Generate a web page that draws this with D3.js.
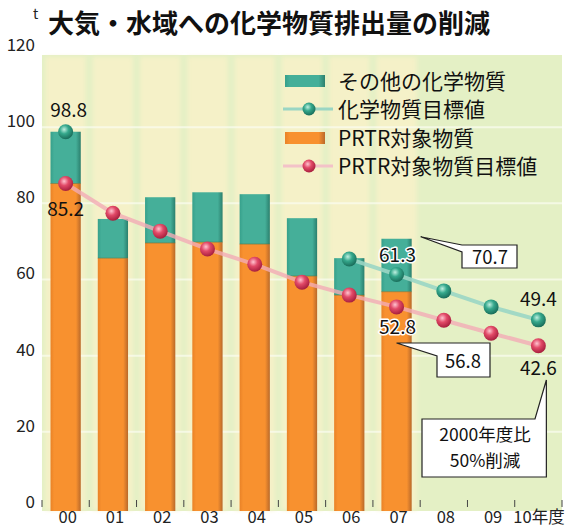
<!DOCTYPE html>
<html>
<head>
<meta charset="utf-8">
<script src="https://cdn.jsdelivr.net/npm/d3@7"></script>
<style>
  body { margin: 0; background: #fff; }
  svg { display: block; font-family: "Noto Sans CJK JP", "Noto Sans", sans-serif; }
</style>
</head>
<body>
<div id="chart"></div>
<script>
// chart data
const years = ["00", "01", "02", "03", "04", "05", "06", "07", "08", "09", "10"];
const barYears = ["00", "01", "02", "03", "04", "05", "06", "07"];
const prtr = [85.2, 65.6, 69.6, 69.8, 69.3, 60.9, 55.9, 56.8];       // PRTR対象物質
const totals = [98.8, 75.9, 81.6, 82.9, 82.4, 76.1, 65.6, 70.7];     // 合計 (上端)
const prtrTarget = [85.2, 77.4, 72.7, 68.0, 64.0, 59.3, 55.9, 52.8, 49.3, 45.9, 42.6];
const chemTarget = [98.8, null, null, null, null, null, 65.4, 61.3, 57.0, 52.8, 49.4];
const yTicks = [0, 20, 40, 60, 80, 100, 120];
const legendLabels = ["その他の化学物質", "化学物質目標値", "PRTR対象物質", "PRTR対象物質目標値"];

const WIDTH = 567, HEIGHT = 530;
const MARGINS = {left: 42, right: 5, top: 55, bottom: 22};
const BASE = 508;

const svg = d3.select("#chart").append("svg")
    .attr("width", WIDTH).attr("height", HEIGHT);

const defs = svg.append("defs");

// bar shading gradients
function barGrad(id, edge, mid, dark) {
  const g = defs.append("linearGradient").attr("id", id)
      .attr("x1", "0%").attr("x2", "100%");
  g.append("stop").attr("offset", "0%").attr("stop-color", edge);
  g.append("stop").attr("offset", "12%").attr("stop-color", mid);
  g.append("stop").attr("offset", "84%").attr("stop-color", mid);
  g.append("stop").attr("offset", "100%").attr("stop-color", dark);
}
barGrad("gOrange", "#e98227", "#f8912f", "#b9692a");
barGrad("gTeal", "#36a08b", "#45af99", "#2b7f6d");

function ballGrad(id, hi, mid, dark) {
  const g = defs.append("radialGradient").attr("id", id)
      .attr("cx", "40%").attr("cy", "35%").attr("r", "65%");
  g.append("stop").attr("offset", "0%").attr("stop-color", hi);
  g.append("stop").attr("offset", "45%").attr("stop-color", mid);
  g.append("stop").attr("offset", "100%").attr("stop-color", dark);
}
ballGrad("bRed", "#ffc4d0", "#e24a68", "#a81f3e");
ballGrad("bTeal", "#bff0e0", "#35a88c", "#1a6e5b");

defs.append("filter").attr("id", "blur")
  .append("feGaussianBlur").attr("stdDeviation", 2);

const x = d3.scaleBand()
    .domain(years)
    .range([MARGINS.left, WIDTH - MARGINS.right]);

const y = d3.scaleLinear()
    .domain([0, 120])
    .range([BASE, 51]);

const bw = x.bandwidth() * 0.64;
const cx = (d) => x(d) + x.bandwidth() / 2;

// background
svg.append("rect")
    .attr("x", MARGINS.left).attr("y", MARGINS.top)
    .attr("width", x.range()[1] - MARGINS.left)
    .attr("height", BASE + 3 - MARGINS.top)
    .attr("fill", "#e4f0c5");

// pale glow behind bars
svg.selectAll(".glow")
  .data(barYears)
  .enter().append("rect")
    .attr("x", (d) => cx(d) - bw / 2 - 5)
    .attr("y", MARGINS.top + 2)
    .attr("width", bw + 10)
    .attr("height", BASE - MARGINS.top)
    .attr("fill", "#f5f1c8")
    .attr("filter", "url(#blur)");

// white grid lines
svg.selectAll(".grid")
  .data(yTicks.slice(1, 6))
  .enter().append("line")
    .attr("x1", MARGINS.left).attr("x2", x.range()[1])
    .attr("y1", (d) => y(d)).attr("y2", (d) => y(d))
    .attr("stroke", "#fbfdf2").attr("stroke-width", 2).attr("opacity", 0.7);

// stacked bars
svg.selectAll(".bar-teal")
  .data(barYears)
  .enter().append("rect")
    .attr("x", (d) => cx(d) - bw / 2)
    .attr("y", (d, i) => y(totals[i]))
    .attr("width", bw)
    .attr("height", (d, i) => y(prtr[i]) - y(totals[i]))
    .attr("fill", "url(#gTeal)");

svg.selectAll(".bar-orange")
  .data(barYears)
  .enter().append("rect")
    .attr("x", (d) => cx(d) - bw / 2)
    .attr("y", (d, i) => y(prtr[i]))
    .attr("width", bw)
    .attr("height", (d, i) => y(0) + 3 - y(prtr[i]))
    .attr("fill", "url(#gOrange)");

svg.selectAll(".bar-sep")
  .data(barYears)
  .enter().append("line")
    .attr("x1", (d) => cx(d) - bw / 2).attr("x2", (d) => cx(d) + bw / 2)
    .attr("y1", (d, i) => y(prtr[i])).attr("y2", (d, i) => y(prtr[i]))
    .attr("stroke", "#5e6e3a").attr("stroke-width", 1).attr("opacity", 0.6);

// target lines
const line = d3.line()
    .defined((d) => d[1] !== null)
    .x((d) => cx(d[0]))
    .y((d) => y(d[1]));

const redPts = years.map((d, i) => [d, prtrTarget[i]]);
const tealPts = years.map((d, i) => [d, chemTarget[i]]);

svg.append("path")
    .datum(redPts)
    .attr("d", line)
    .attr("fill", "none")
    .attr("stroke", "#f3abb5").attr("stroke-width", 4).attr("opacity", 0.8);

svg.append("path")
    .datum(tealPts)
    .attr("d", line)
    .attr("fill", "none")
    .attr("stroke", "#9ad6c4").attr("stroke-width", 4).attr("opacity", 0.9);

svg.selectAll(".dot-red")
  .data(redPts)
  .enter().append("circle")
    .attr("cx", (d) => cx(d[0])).attr("cy", (d) => y(d[1]))
    .attr("r", 7.5)
    .attr("fill", "url(#bRed)");

svg.selectAll(".dot-teal")
  .data(tealPts.filter((d) => d[1] !== null))
  .enter().append("circle")
    .attr("cx", (d) => cx(d[0])).attr("cy", (d) => y(d[1]))
    .attr("r", 7.5)
    .attr("fill", "url(#bTeal)");

// y axis labels
svg.selectAll(".ylab")
  .data(yTicks)
  .enter().append("text")
    .attr("x", 35).attr("y", (d) => y(d) - 6)
    .attr("dy", "0.35em")
    .attr("text-anchor", "end")
    .attr("font-size", 17).attr("fill", "#222")
    .text((d) => d);

svg.append("text")
    .attr("x", 33).attr("y", 19)
    .attr("font-size", 14).attr("fill", "#222")
    .text("t");

// x axis tick marks at band edges
const edges = years.map((d) => x(d)).concat([x.range()[1]]);
svg.selectAll(".xtick")
  .data(edges)
  .enter().append("line")
    .attr("x1", (d) => d).attr("x2", (d) => d)
    .attr("y1", y(0) - 8).attr("y2", y(0) - 1)
    .attr("stroke", "#444").attr("stroke-width", 1);

svg.selectAll(".xlab")
  .data(years)
  .enter().append("text")
    .attr("x", (d) => d === "10" ? cx(d) - 25 : cx(d) + 2)
    .attr("y", 523)
    .attr("text-anchor", (d) => d === "10" ? "start" : "middle")
    .attr("font-size", 16.5).attr("fill", "#222")
    .text((d) => d === "10" ? d + "年度" : d);

// title
svg.append("text")
    .attr("x", 48).attr("y", 33)
    .attr("font-size", 26).attr("font-weight", "bold").attr("fill", "#111")
    .text("大気・水域への化学物質排出量の削減");

// legend
const lg = svg.append("g");
const rowY = [81, 109, 138, 166];
lg.append("rect").attr("x", 285).attr("y", rowY[0] - 6).attr("width", 40).attr("height", 12)
    .attr("fill", "url(#gTeal)");
lg.append("line").attr("x1", 283).attr("x2", 333).attr("y1", rowY[1]).attr("y2", rowY[1])
    .attr("stroke", "#9ad6c4").attr("stroke-width", 3);
lg.append("circle").attr("cx", 309).attr("cy", rowY[1]).attr("r", 6.5).attr("fill", "url(#bTeal)");
lg.append("rect").attr("x", 285).attr("y", rowY[2] - 6).attr("width", 40).attr("height", 12)
    .attr("fill", "url(#gOrange)");
lg.append("line").attr("x1", 283).attr("x2", 333).attr("y1", rowY[3]).attr("y2", rowY[3])
    .attr("stroke", "#f3c2c8").attr("stroke-width", 3);
lg.append("circle").attr("cx", 309).attr("cy", rowY[3]).attr("r", 6.5).attr("fill", "url(#bRed)");
lg.selectAll("text")
  .data(legendLabels)
  .enter().append("text")
    .attr("x", 338).attr("y", (d, i) => rowY[i])
    .attr("dy", "0.36em")
    .attr("font-size", 21).attr("fill", "#111")
    .text((d) => d);

// value labels
function label(txt, xx, yy, halo) {
  const t = svg.append("text")
      .attr("x", xx).attr("y", yy)
      .attr("text-anchor", "middle")
      .attr("font-size", 19).attr("fill", "#111")
      .text(txt);
  if (halo) t.attr("stroke", "#fff").attr("stroke-width", 3)
      .attr("paint-order", "stroke").attr("stroke-linejoin", "round");
}
label(totals[0].toFixed(1), cx("00") + 3, y(totals[0]) - 15, false);
label(prtr[0].toFixed(1), cx("00"), y(prtr[0]) + 32, false);
label(chemTarget[7].toFixed(1), cx("07") + 1, y(chemTarget[7]) - 13, true);
label(prtrTarget[7].toFixed(1), cx("07") + 1, y(prtrTarget[7]) + 27, true);
label(chemTarget[10].toFixed(1), cx("10"), y(chemTarget[10]) - 14, false);
label(prtrTarget[10].toFixed(1), cx("10"), y(prtrTarget[10]) + 29, false);

// callouts
function callout(pts, txtLines, tx, ty, gap, fs) {
  svg.append("path")
      .attr("d", d3.line()(pts) + "Z")
      .attr("fill", "#fff").attr("stroke", "#222").attr("stroke-width", 1.2);
  txtLines.forEach((s, i) => {
    svg.append("text")
        .attr("x", tx).attr("y", ty + i * gap)
        .attr("text-anchor", "middle")
        .attr("font-size", fs).attr("fill", "#111")
        .text(s);
  });
}
const bx7 = cx("07") + bw / 2;
callout([[bx7 + 9, y(totals[7]) - 2], [462, 245], [517, 245], [517, 268], [462, 268], [462, 252]],
    [totals[7].toFixed(1)], 490, 264, 0, 18.5);
callout([[cx("07"), 343], [490, 343], [490, 377], [437, 377], [437, 356]],
    [prtr[7].toFixed(1)], 463, 368, 0, 18.5);
callout([[422, 419], [535, 419], [cx("10") + 8, 380], [cx("10") + 8, 477], [422, 477]],
    ["2000年度比", "50%削減"], 485, 441, 26, 17.5);
</script>
</body>
</html>
